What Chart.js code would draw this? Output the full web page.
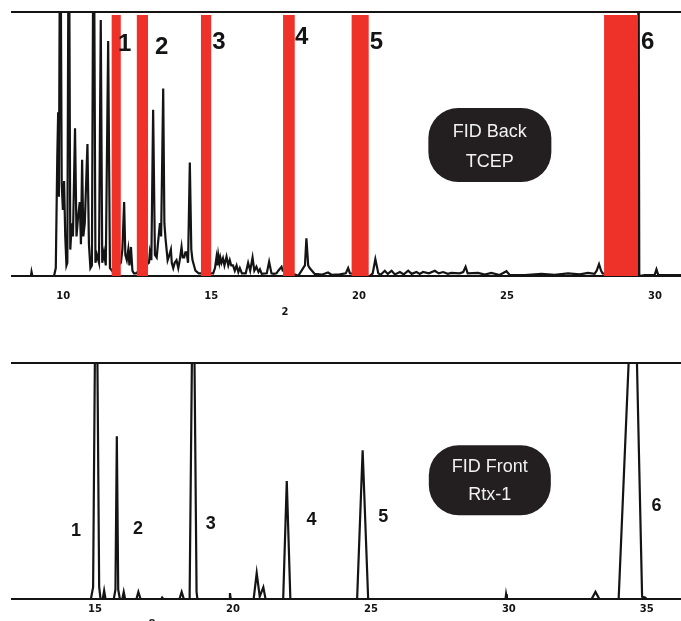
<!DOCTYPE html>
<html>
<head>
<meta charset="utf-8">
<script src="https://cdn.jsdelivr.net/npm/chart.js@4.4.1/dist/chart.umd.min.js"></script>
<style>
  body { margin: 0; background: #fff; }
  #wrap { position: relative; width: 681px; height: 621px; overflow: hidden; }
  canvas { position: absolute; left: 0; }
  #backChart { top: 0; }
  #frontChart { top: 321px; }
</style>
</head>
<body>
<div id="wrap">
  <canvas id="backChart" width="681" height="320"></canvas>
  <canvas id="frontChart" width="681" height="300"></canvas>
</div>
<script>
// FID Back (TCEP) trace: retention time in min, signal as fraction of full scale
const backTime = [
  8.27, 8.91, 8.93, 8.96, 9.69, 9.75, 9.80, 9.83, 9.855, 9.90, 9.95, 9.99, 10.03, 10.07,
  10.11, 10.14, 10.19, 10.24, 10.29, 10.33, 10.40, 10.45, 10.50, 10.56, 10.60, 10.64, 10.68,
  10.73, 10.82, 10.87, 10.92, 10.97, 11.03, 11.09, 11.14, 11.21, 11.27, 11.32, 11.38, 11.44,
  11.52, 11.58, 11.65, 11.95, 12.00, 12.06, 12.10, 12.15, 12.20, 12.24, 12.29, 12.34, 12.39,
  12.46, 12.90, 12.93, 12.98, 13.04, 13.10, 13.16, 13.20, 13.27, 13.31, 13.38, 13.42, 13.46,
  13.53, 13.59, 13.64, 13.67, 13.72, 13.77, 13.83, 13.89, 13.94, 14.00, 14.04, 14.09, 14.13,
  14.17, 14.22, 14.28, 14.33, 14.37, 14.47, 14.58, 15.07, 15.13, 15.18, 15.21, 15.24, 15.28,
  15.31, 15.35, 15.40, 15.45, 15.52, 15.58, 15.63, 15.68, 15.74, 15.80, 15.86, 15.92, 15.97,
  16.04, 16.17, 16.25, 16.32, 16.40, 16.46, 16.53, 16.60, 16.65, 16.71, 16.88, 16.96, 17.04,
  17.12, 17.21, 17.27, 17.38, 17.42, 17.86, 17.94, 18.11, 18.17, 18.22, 18.28, 18.33, 18.50,
  18.74, 18.95, 19.08, 19.35, 19.55, 19.63, 19.69, 20.36, 20.46, 20.55, 20.65, 20.73, 20.87,
  20.97, 21.10, 21.21, 21.38, 21.51, 21.66, 21.78, 21.94, 22.05, 22.16, 22.36, 22.56, 22.69,
  22.84, 23.00, 23.12, 23.40, 23.52, 23.60, 23.67, 24.02, 24.25, 24.47, 24.75, 24.98, 25.09,
  25.60, 26.16, 26.61, 27.06, 27.46, 27.74, 27.96, 28.03, 28.11, 28.18, 28.23, 29.42, 29.445,
  29.47, 29.65, 29.99, 30.05, 30.11, 30.88
];
const backSignal = [
  0, 0, 0.016, 0, 0, 0.03, 0.45, 0.62, 0.30, 1.6, 0.35, 0.25, 0.36, 0.15,
  0.04, 0.05, 1.6, 0.10, 0.20, 0.15, 0.56, 0.15, 0.22, 0.28, 0.12, 0.44, 0.15,
  0.20, 0.50, 0.12, 0.03, 0.04, 1.6, 0.05, 0.08, 0.05, 0.97, 0.05, 0.09, 0.04,
  0.89, 0.03, 0.02, 0.05, 0.10, 0.28, 0.08, 0.06, 0.10, 0.04, 0.11, 0.02, 0.01,
  0.01, 0.05, 0.09, 0.06, 0.63, 0.08, 0.07, 0.12, 0.20, 0.15, 0.71, 0.20, 0.14,
  0.06, 0.08, 0.10, 0.05, 0.03, 0.05, 0.06, 0.03, 0.06, 0.11, 0.07, 0.07, 0.09,
  0.09, 0.05, 0.43, 0.10, 0.06, 0.02, 0.01, 0.01, 0.03, 0.07, 0.04, 0.08, 0.05,
  0.07, 0.05, 0.067, 0.04, 0.073, 0.04, 0.06, 0.04, 0.04, 0.02, 0.04, 0.015, 0.03,
  0.01, 0.01, 0.05, 0.02, 0.07, 0.02, 0.035, 0.015, 0.025, 0.008, 0.01, 0.054, 0.01,
  0.008, 0.01, 0.02, 0.035, 0.02, 0.005, 0, 0.03, 0.04, 0.143, 0.04, 0.03, 0.008,
  0.005, 0.013, 0.004, 0.006, 0.01, 0.03, 0.01, 0, 0.01, 0.064, 0.01, 0.005, 0.02,
  0.008, 0.02, 0.006, 0.015, 0.006, 0.02, 0.008, 0.015, 0.008, 0.015, 0.01, 0.02, 0.01,
  0.015, 0.008, 0.012, 0.01, 0.015, 0.035, 0.01, 0.012, 0.005, 0.012, 0.004, 0.018, 0.004,
  0.003, 0.008, 0.004, 0.01, 0.006, 0.012, 0.008, 0.02, 0.045, 0.02, 0.01, 0, 1.3,
  0, 0.003, 0.004, 0.025, 0.004, 0.003
];
const backTicks = [10, 15, 20, 25, 30];
// red windows on the TCEP trace
const bandStart = [11.63, 12.48, 14.65, 17.43, 19.74, 28.28];
const bandEnd = [11.95, 12.87, 15.01, 17.83, 20.33, 29.43];
const bandTop = 0.989;
const peakNames = ["1", "2", "3", "4", "5", "6"];
const backLabelTime = [12.08, 13.33, 15.26, 18.06, 20.59, 29.75];
const backLabelLevel = [0.879, 0.867, 0.886, 0.905, 0.886, 0.886];

// FID Front (Rtx-1) trace
const frontTime = [
  11.99, 14.85, 14.93, 15.04, 15.15, 15.20, 15.28, 15.33, 15.38, 15.68, 15.74, 15.79, 15.84,
  15.90, 15.99, 16.04, 16.09, 16.50, 16.57, 16.65, 17.40, 17.43, 17.46, 18.06, 18.14, 18.22,
  18.41, 18.43, 18.56, 18.68, 18.71, 19.86, 19.89, 19.92, 20.75, 20.86, 20.97, 21.10, 21.18,
  21.82, 21.95, 22.08, 24.50, 24.70, 24.90, 29.88, 29.90, 29.93, 33.00, 33.14, 33.28, 33.98,
  34.54, 34.83, 34.95, 35.00, 36.24
];
const frontSignal = [
  0, 0, 0.05, 1.7, 0.05, 0, 0, 0.035, 0, 0, 0.04, 0.69, 0.04,
  0, 0, 0.03, 0, 0, 0.03, 0, 0, 0.006, 0, 0, 0.03, 0,
  0, 0.03, 1.6, 0.03, 0, 0, 0.025, 0, 0, 0.11, 0.01, 0.05, 0,
  0, 0.50, 0, 0, 0.63, 0, 0, 0.02, 0, 0, 0.03, 0, 0,
  1.55, 0.01, 0.005, 0, 0
];
const frontTicks = [15, 20, 25, 30, 35];
const frontLabelTime = [14.31, 16.56, 19.19, 22.85, 25.45, 35.35];
const frontLabelLevel = [0.287, 0.295, 0.316, 0.333, 0.347, 0.394];

const ink = "#141414";
const tickFont = { family: "DejaVu Sans", weight: "bold", size: 10 };

function notesPlugin(cfg) {
  return {
    id: "notes",
    afterDraw(chart) {
      const { ctx } = chart;
      const x = chart.scales.x;
      const y = chart.scales.y;
      ctx.save();
      const cx = x.getPixelForValue(cfg.boxTime);
      const cy = y.getPixelForValue(cfg.boxLevel);
      ctx.fillStyle = "#231f20";
      ctx.beginPath();
      ctx.roundRect(cx - cfg.boxW / 2, cy - cfg.boxH / 2, cfg.boxW, cfg.boxH, 30);
      ctx.fill();
      ctx.fillStyle = "#f2f2f2";
      ctx.font = "18px 'Liberation Sans'";
      ctx.textAlign = "center";
      ctx.textBaseline = "middle";
      cfg.boxText.forEach((s, i) => {
        ctx.fillText(s, cx, cy + (i - 0.5) * cfg.lineGap + cfg.textShift);
      });
      ctx.fillStyle = ink;
      ctx.font = cfg.numFont;
      peakNames.forEach((n, i) => {
        ctx.fillText(n, x.getPixelForValue(cfg.times[i]), y.getPixelForValue(cfg.levels[i]));
      });
      ctx.font = "bold 10px 'DejaVu Sans'";
      ctx.fillText(cfg.stray[0], cfg.stray[1], cfg.stray[2]);
      ctx.restore();
    },
  };
}

function makeChart(canvasId, opt) {
  const datasets = [];
  if (opt.bands) {
    opt.bands.start.forEach((s, i) => {
      const e = opt.bands.end[i];
      datasets.push({
        data: [
          { x: s, y: 0 }, { x: s, y: bandTop },
          { x: e, y: bandTop }, { x: e, y: 0 },
        ],
        fill: "origin",
        backgroundColor: "#ee3229",
        borderWidth: 0,
        pointRadius: 0,
      });
    });
  }
  datasets.push({
    data: opt.time.map((t, i) => ({ x: t, y: opt.signal[i] })),
    borderColor: ink,
    borderWidth: 2.2,
    pointRadius: 0,
    tension: 0,
    fill: false,
  });

  return new Chart(document.getElementById(canvasId), {
    type: "line",
    data: { datasets },
    options: {
      responsive: false,
      animation: false,
      layout: { padding: { left: 12, right: 0, top: 0, bottom: 0 } },
      plugins: { legend: { display: false }, tooltip: { enabled: false } },
      scales: {
        x: {
          type: "linear",
          position: "bottom",
          min: opt.min,
          max: opt.max,
          afterBuildTicks: (s) => { s.ticks = opt.ticks.map((v) => ({ value: v })); },
          afterFit: (s) => { s.height = opt.bottomH; },
          grid: { display: false, drawTicks: false },
          border: { display: true, color: ink, width: 2 },
          ticks: { color: ink, font: tickFont, padding: opt.tickPad, maxRotation: 0 },
        },
        x2: {
          type: "linear",
          position: "top",
          min: opt.min,
          max: opt.max,
          afterFit: (s) => { s.height = opt.topH; },
          grid: { display: false, drawTicks: false },
          border: { display: true, color: ink, width: 2 },
          ticks: { display: false },
        },
        y: { display: false, min: 0, max: 1 },
      },
    },
    plugins: [notesPlugin(opt.notes)],
  });
}

makeChart("backChart", {
  time: backTime,
  signal: backSignal,
  ticks: backTicks,
  min: 8.27,
  max: 30.88,
  topH: 12,
  bottomH: 44,
  tickPad: 14,
  bands: { start: bandStart, end: bandEnd },
  notes: {
    boxTime: 24.42, boxLevel: 0.496, boxW: 123, boxH: 74,
    boxText: ["FID Back", "TCEP"], lineGap: 30, textShift: 2,
    numFont: "bold 24px 'Liberation Sans'",
    times: backLabelTime, levels: backLabelLevel,
    stray: ["2", 285, 312],
  },
});

makeChart("frontChart", {
  time: frontTime,
  signal: frontSignal,
  ticks: frontTicks,
  min: 11.99,
  max: 36.24,
  topH: 42,
  bottomH: 22,
  tickPad: 4,
  notes: {
    boxTime: 29.31, boxLevel: 0.503, boxW: 122, boxH: 70,
    boxText: ["FID Front", "Rtx-1"], lineGap: 28, textShift: 1,
    numFont: "bold 18px 'Liberation Sans'",
    times: frontLabelTime, levels: frontLabelLevel,
    stray: ["8", 152, 303],
  },
});
</script>
</body>
</html>
